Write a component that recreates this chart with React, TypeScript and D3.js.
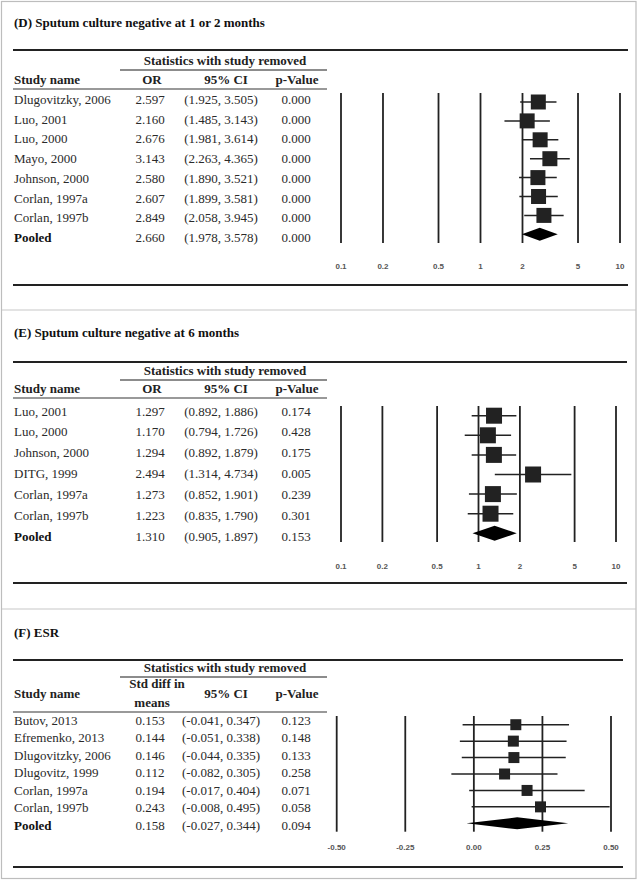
import * as d3 from 'd3'

// (D) Sputum culture negative at 1 or 2 months
const dStudies = ['Dlugovitzky, 2006', 'Luo, 2001', 'Luo, 2000', 'Mayo, 2000', 'Johnson, 2000', 'Corlan, 1997a', 'Corlan, 1997b', 'Pooled']
const dEst = [2.597, 2.16, 2.676, 3.143, 2.58, 2.607, 2.849, 2.66]
const dLo = [1.925, 1.485, 1.981, 2.263, 1.89, 1.899, 2.058, 1.978]
const dHi = [3.505, 3.143, 3.614, 4.365, 3.521, 3.581, 3.945, 3.578]
const dP = [0, 0, 0, 0, 0, 0, 0, 0]

// (E) Sputum culture negative at 6 months
const eStudies = ['Luo, 2001', 'Luo, 2000', 'Johnson, 2000', 'DITG, 1999', 'Corlan, 1997a', 'Corlan, 1997b', 'Pooled']
const eEst = [1.297, 1.17, 1.294, 2.494, 1.273, 1.223, 1.31]
const eLo = [0.892, 0.794, 0.892, 1.314, 0.852, 0.835, 0.905]
const eHi = [1.886, 1.726, 1.879, 4.734, 1.901, 1.79, 1.897]
const eP = [0.174, 0.428, 0.175, 0.005, 0.239, 0.301, 0.153]

// (F) ESR
const fStudies = ['Butov, 2013', 'Efremenko, 2013', 'Dlugovitzky, 2006', 'Dlugovitz, 1999', 'Corlan, 1997a', 'Corlan, 1997b', 'Pooled']
const fEst = [0.153, 0.144, 0.146, 0.112, 0.194, 0.243, 0.158]
const fLo = [-0.041, -0.051, -0.044, -0.082, -0.017, -0.008, -0.027]
const fHi = [0.347, 0.338, 0.335, 0.305, 0.404, 0.495, 0.344]
const fP = [0.123, 0.148, 0.133, 0.258, 0.071, 0.058, 0.094]

const orTicks = [0.1, 0.2, 0.5, 1, 2, 5, 10]
const orTickLabels = ['0.1', '0.2', '0.5', '1', '2', '5', '10']
const smdTicks = [-0.5, -0.25, 0, 0.25, 0.5]
const smdTickLabels = ['-0.50', '-0.25', '0.00', '0.25', '0.50']

const W = 639
const H = 881
const SERIF = '"Liberation Serif", "Times New Roman", serif'
const SANS = '"Liberation Sans", Arial, sans-serif'
const INK = '#222'
const FS = 13

interface PanelCfg {
  title: string
  effectHeader: string[]
  studies: string[]
  est: number[]
  lo: number[]
  hi: number[]
  p: number[]
  ticks: number[]
  tickLabels: string[]
  log: boolean
  domain: [number, number]
  xRange: [number, number]
  titleY: number
  topY: number
  statY: number
  statLineY: number
  headY: number
  headLineY: number
  bottomY: number
  lineEnd: number
  textRows: [number, number]
  plotRows: [number, number]
  vlines: [number, number]
  tickY: number
  box: number
  diamondH: number
}

const panels: PanelCfg[] = [
  {
    title: '(D) Sputum culture negative at 1 or 2 months',
    effectHeader: ['OR'],
    studies: dStudies, est: dEst, lo: dLo, hi: dHi, p: dP,
    ticks: orTicks, tickLabels: orTickLabels, log: true,
    domain: [0.1, 10], xRange: [341, 620],
    titleY: 27, topY: 50, statY: 65, statLineY: 70, headY: 84, headLineY: 89, bottomY: 285, lineEnd: 628,
    textRows: [104, 242], plotRows: [102, 234.3], vlines: [93, 243], tickY: 269, box: 15, diamondH: 13,
  },
  {
    title: '(E) Sputum culture negative at 6 months',
    effectHeader: ['OR'],
    studies: eStudies, est: eEst, lo: eLo, hi: eHi, p: eP,
    ticks: orTicks, tickLabels: orTickLabels, log: true,
    domain: [0.1, 10], xRange: [341, 616],
    titleY: 337, topY: 362, statY: 375, statLineY: 380, headY: 393, headLineY: 398, bottomY: 583, lineEnd: 627,
    textRows: [415.5, 540.5], plotRows: [415.7, 533.3], vlines: [406, 542], tickY: 569, box: 16, diamondH: 15,
  },
  {
    title: '(F) ESR',
    effectHeader: ['Std diff in', 'means'],
    studies: fStudies, est: fEst, lo: fLo, hi: fHi, p: fP,
    ticks: smdTicks, tickLabels: smdTickLabels, log: false,
    domain: [-0.5, 0.5], xRange: [336.7, 611],
    titleY: 637, topY: 660, statY: 672, statLineY: 677, headY: 698, headLineY: 712, bottomY: 867, lineEnd: 623,
    textRows: [725, 829.5], plotRows: [724.7, 823.3], vlines: [716, 831.7], tickY: 850, box: 11, diamondH: 12,
  },
]

function Panel({ c }: { c: PanelCfg }) {
  const x = c.log
    ? d3.scaleLog().domain(c.domain).range(c.xRange)
    : d3.scaleLinear().domain(c.domain).range(c.xRange)
  const textY = d3.scalePoint<string>().domain(c.studies).range(c.textRows)
  const plotY = d3.scalePoint<string>().domain(c.studies).range(c.plotRows)
  const last = c.studies.length - 1
  const fmt = (v: number) => v.toFixed(3)
  const colName = 14
  const colEst = 150
  const colCI = 221
  const colP = 296

  return (
    <g>
      <text x={14} y={c.titleY} fontFamily={SERIF} fontSize={FS} fontWeight="bold" fill="#111">{c.title}</text>
      <line x1={13} x2={c.lineEnd} y1={c.topY} y2={c.topY} stroke={INK} strokeWidth={2} />
      <text x={225} y={c.statY} textAnchor="middle" fontFamily={SERIF} fontSize={FS} fontWeight="bold" fill={INK}>
        Statistics with study removed
      </text>
      <line x1={120} x2={327} y1={c.statLineY} y2={c.statLineY} stroke="#666" strokeWidth={1.3} />
      <g fontFamily={SERIF} fontSize={FS} fontWeight="bold" fill={INK}>
        <text x={colName} y={c.headY}>Study name</text>
        {c.effectHeader.length === 1 ? (
          <text x={152} y={c.headY} textAnchor="middle">{c.effectHeader[0]}</text>
        ) : (
          <>
            <text x={157} y={c.headY - 10} textAnchor="middle">{c.effectHeader[0]}</text>
            <text x={152} y={c.headY + 9} textAnchor="middle">{c.effectHeader[1]}</text>
          </>
        )}
        <text x={226} y={c.headY} textAnchor="middle">95% CI</text>
        <text x={297} y={c.headY} textAnchor="middle">p-Value</text>
      </g>
      <line x1={13} x2={327} y1={c.headLineY} y2={c.headLineY} stroke="#777" strokeWidth={1.3} />
      <g fontFamily={SERIF} fontSize={FS} fill="#2a2a2a">
        {c.studies.map((s, i) => {
          const y = textY(s)!
          return (
            <g key={s}>
              <text x={colName} y={y} fontWeight={i === last ? 'bold' : 'normal'} fill={i === last ? '#111' : '#2a2a2a'}>{s}</text>
              <text x={colEst} y={y} textAnchor="middle">{fmt(c.est[i])}</text>
              <text x={colCI} y={y} textAnchor="middle">({fmt(c.lo[i])}, {fmt(c.hi[i])})</text>
              <text x={colP} y={y} textAnchor="middle">{fmt(c.p[i])}</text>
            </g>
          )
        })}
      </g>
      {c.ticks.map((t, i) => (
        <g key={t}>
          <line x1={x(t)} x2={x(t)} y1={c.vlines[0]} y2={c.vlines[1]} stroke={INK} strokeWidth={1.8} />
          <text x={x(t)} y={c.tickY} textAnchor="middle" fontFamily={SANS} fontSize={8} fontWeight="bold" fill="#555">
            {c.tickLabels[i]}
          </text>
        </g>
      ))}
      {c.studies.map((s, i) => {
        const y = plotY(s)!
        const xe = x(c.est[i])
        const xl = x(c.lo[i])
        const xh = x(c.hi[i])
        if (i === last) {
          const h = c.diamondH / 2
          return <path key={s} d={`M${xl},${y}L${xe},${y - h}L${xh},${y}L${xe},${y + h}Z`} fill="#000" />
        }
        return (
          <g key={s}>
            <line x1={xl} x2={xh} y1={y} y2={y} stroke={INK} strokeWidth={1.5} />
            <rect x={xe - c.box / 2} y={y - c.box / 2} width={c.box} height={c.box} fill={INK} />
          </g>
        )
      })}
      <line x1={13} x2={c.lineEnd} y1={c.bottomY} y2={c.bottomY} stroke={INK} strokeWidth={2} />
    </g>
  )
}

export default function App() {
  return (
    <svg width={W} height={H} style={{ position: 'absolute', left: 0, top: 0, background: '#fff' }}>
      <rect x={1.5} y={1.5} width={634.5} height={877} fill="#fff" stroke="#bdbdbd" strokeWidth={1.2} />
      <line x1={2} x2={636} y1={310} y2={310} stroke="#c8c8c8" strokeWidth={1.2} />
      <line x1={2} x2={636} y1={609} y2={609} stroke="#c8c8c8" strokeWidth={1.2} />
      {panels.map((c) => <Panel key={c.title} c={c} />)}
    </svg>
  )
}
